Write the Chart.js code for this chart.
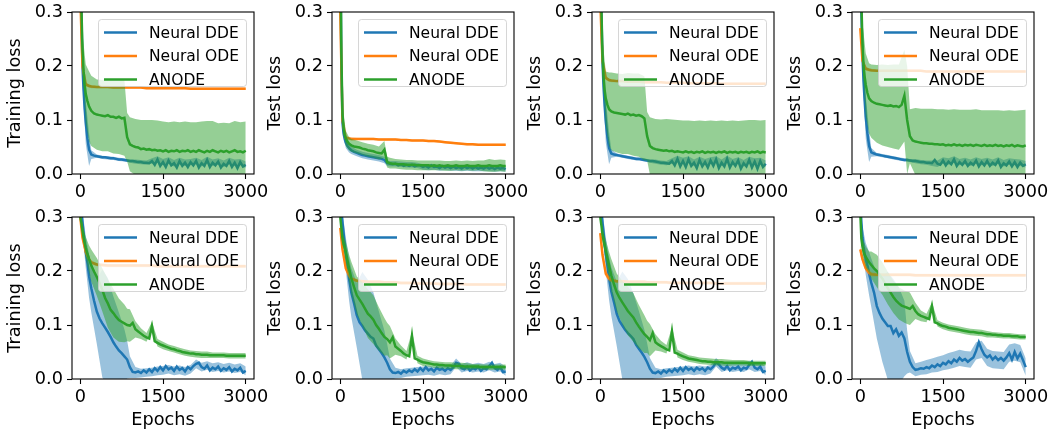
<!DOCTYPE html>
<html>
<head>
<meta charset="utf-8">
<script src="https://cdn.jsdelivr.net/npm/chart.js@4.4.1/dist/chart.umd.min.js"></script>
<style>
  body { margin: 0; background: #fff; width: 1053px; height: 435px; overflow: hidden; position: relative; }
  canvas { position: absolute; }
</style>
</head>
<body>
<script>
// epochs for the mean curves
const epochs = [0, 20, 40, 60, 80, 100, 130, 160, 200,
  250, 300, 350, 400, 450, 500, 550, 600, 650, 700, 750, 800,
  850, 900, 950, 1000, 1050, 1100, 1150, 1200, 1250, 1300, 1350, 1400,
  1450, 1500, 1550, 1600, 1650, 1700, 1750, 1800, 1850, 1900, 1950, 2000,
  2050, 2100, 2150, 2200, 2250, 2300, 2350, 2400, 2450, 2500, 2550, 2600,
  2650, 2700, 2750, 2800, 2850, 2900, 2950, 3000];

// coarser epochs for the shaded bands and the Neural ODE curves
const bandEpochs = [0, 40, 100, 160, 200,
  300, 400, 500, 600, 700, 800, 850, 900,
  1000, 1100, 1200, 1300, 1400, 1500, 1600, 1700, 1800, 1900, 2000,
  2100, 2200, 2300, 2400, 2500, 2600, 2700, 2800, 2900, 3000];

const seriesNames = ['Neural DDE', 'Neural ODE', 'ANODE'];
const xTicks = [0, 1500, 3000];
const yTicks = [0, 0.1, 0.2, 0.3];
const yLabels = ['Training loss', 'Test loss', 'Test loss', 'Test loss',
                 'Training loss', 'Test loss', 'Test loss', 'Test loss'];

// ---- panel 1 (top, training) ----
const dde1 = [0.42, 0.30, 0.20, 0.155, 0.12, 0.095, 0.065, 0.045, 0.036,
  0.034, 0.033, 0.032, 0.031, 0.031, 0.030, 0.029, 0.029, 0.028, 0.027, 0.027, 0.026,
  0.025, 0.024, 0.024, 0.023, 0.022, 0.022, 0.021, 0.021, 0.020, 0.024, 0.017, 0.027,
  0.015, 0.022, 0.013, 0.025, 0.016, 0.020, 0.012, 0.024, 0.015, 0.021, 0.013, 0.022,
  0.016, 0.024, 0.012, 0.020, 0.015, 0.026, 0.013, 0.021, 0.016, 0.023, 0.012, 0.019,
  0.015, 0.024, 0.013, 0.021, 0.011, 0.022, 0.014, 0.017];
const ode1 = [0.33, 0.20, 0.166, 0.163, 0.162,
  0.161, 0.161, 0.161, 0.160, 0.160, 0.160, 0.160, 0.160,
  0.160, 0.160, 0.159, 0.159, 0.159, 0.159, 0.159, 0.159, 0.159, 0.159, 0.158,
  0.158, 0.158, 0.158, 0.158, 0.158, 0.158, 0.158, 0.158, 0.158, 0.158];
const anode1 = [0.45, 0.31, 0.23, 0.19, 0.165, 0.148, 0.135, 0.125, 0.117,
  0.112, 0.110, 0.109, 0.108, 0.107, 0.109, 0.106, 0.106, 0.104, 0.106, 0.103, 0.104,
  0.068, 0.055, 0.052, 0.050, 0.049, 0.046, 0.047, 0.045, 0.046, 0.044, 0.045, 0.043,
  0.044, 0.042, 0.044, 0.041, 0.043, 0.042, 0.044, 0.041, 0.043, 0.042, 0.044, 0.041,
  0.043, 0.041, 0.044, 0.042, 0.040, 0.043, 0.041, 0.044, 0.042, 0.040, 0.043, 0.041,
  0.043, 0.040, 0.042, 0.044, 0.041, 0.042, 0.040, 0.043];
const anodeStd1 = [0.02, 0.03, 0.055, 0.065, 0.065,
  0.065, 0.066, 0.067, 0.068, 0.069, 0.070, 0.045, 0.050,
  0.052, 0.054, 0.055, 0.056, 0.056, 0.055, 0.055, 0.055, 0.055, 0.055, 0.055,
  0.055, 0.055, 0.055, 0.054, 0.054, 0.054, 0.054, 0.054, 0.054, 0.054];

// ---- panel 2 (top, test) ----
const dde2 = [0.45, 0.20, 0.095, 0.075, 0.065, 0.058, 0.052, 0.048, 0.044,
  0.041, 0.039, 0.037, 0.035, 0.034, 0.033, 0.032, 0.031, 0.030, 0.029, 0.028, 0.026,
  0.020, 0.019, 0.018, 0.019, 0.016, 0.018, 0.015, 0.017, 0.015, 0.017, 0.014, 0.016,
  0.016, 0.013, 0.015, 0.012, 0.016, 0.013, 0.014, 0.011, 0.015, 0.012, 0.014, 0.011,
  0.014, 0.011, 0.013, 0.010, 0.014, 0.011, 0.013, 0.010, 0.013, 0.010, 0.012, 0.010,
  0.013, 0.010, 0.012, 0.009, 0.012, 0.010, 0.011, 0.009];
const ode2 = [0.30, 0.10, 0.067, 0.066, 0.065,
  0.065, 0.065, 0.065, 0.065, 0.064, 0.064, 0.064, 0.064,
  0.064, 0.063, 0.063, 0.062, 0.062, 0.062, 0.061, 0.061, 0.060, 0.059, 0.058,
  0.057, 0.056, 0.055, 0.055, 0.054, 0.054, 0.054, 0.054, 0.054, 0.054];
const anode2 = [0.45, 0.22, 0.11, 0.085, 0.072, 0.066, 0.060, 0.056, 0.053,
  0.051, 0.050, 0.049, 0.047, 0.046, 0.044, 0.043, 0.042, 0.040, 0.039, 0.038, 0.045,
  0.022, 0.020, 0.019, 0.019, 0.018, 0.018, 0.018, 0.017, 0.017, 0.017, 0.017, 0.016,
  0.016, 0.016, 0.016, 0.016, 0.015, 0.016, 0.015, 0.016, 0.015, 0.015, 0.016, 0.015,
  0.015, 0.016, 0.015, 0.015, 0.015, 0.016, 0.015, 0.015, 0.015, 0.016, 0.015, 0.015,
  0.015, 0.016, 0.015, 0.015, 0.015, 0.016, 0.015, 0.015];
const ddeStd2 = [0.02, 0.015, 0.01, 0.008, 0.007,
  0.006, 0.006, 0.006, 0.006, 0.006, 0.006, 0.005, 0.005,
  0.005, 0.005, 0.005, 0.005, 0.005, 0.005, 0.005, 0.005, 0.005, 0.005, 0.005,
  0.005, 0.005, 0.005, 0.005, 0.005, 0.005, 0.005, 0.005, 0.005, 0.005];
const anodeStd2 = [0.02, 0.02, 0.014, 0.012, 0.012,
  0.012, 0.012, 0.012, 0.012, 0.012, 0.016, 0.010, 0.010,
  0.009, 0.009, 0.009, 0.009, 0.009, 0.009, 0.009, 0.009, 0.009, 0.009, 0.009,
  0.009, 0.009, 0.009, 0.009, 0.009, 0.010, 0.012, 0.011, 0.011, 0.011];

// ---- panel 3 (top, test) ----
const dde3 = [0.42, 0.30, 0.21, 0.16, 0.125, 0.098, 0.068, 0.048, 0.038,
  0.036, 0.035, 0.034, 0.033, 0.032, 0.031, 0.030, 0.029, 0.028, 0.028, 0.027, 0.026,
  0.025, 0.024, 0.024, 0.023, 0.022, 0.021, 0.021, 0.020, 0.019, 0.024, 0.016, 0.028,
  0.014, 0.024, 0.013, 0.027, 0.015, 0.021, 0.011, 0.026, 0.014, 0.022, 0.012, 0.025,
  0.015, 0.027, 0.011, 0.021, 0.014, 0.028, 0.012, 0.022, 0.015, 0.025, 0.010, 0.020,
  0.014, 0.026, 0.012, 0.023, 0.010, 0.024, 0.013, 0.019];
const ode3 = [0.32, 0.21, 0.178, 0.174, 0.173,
  0.172, 0.172, 0.171, 0.171, 0.171, 0.170, 0.170, 0.170,
  0.170, 0.170, 0.169, 0.169, 0.169, 0.169, 0.168, 0.168, 0.168, 0.168, 0.168,
  0.168, 0.167, 0.167, 0.167, 0.167, 0.167, 0.167, 0.167, 0.167, 0.167];
const anode3 = [0.45, 0.31, 0.22, 0.18, 0.155, 0.14, 0.128, 0.12, 0.116,
  0.114, 0.113, 0.112, 0.111, 0.110, 0.112, 0.109, 0.110, 0.108, 0.109, 0.107, 0.103,
  0.070, 0.052, 0.048, 0.046, 0.045, 0.044, 0.043, 0.044, 0.042, 0.043, 0.041, 0.042,
  0.041, 0.040, 0.042, 0.040, 0.041, 0.039, 0.041, 0.040, 0.042, 0.039, 0.041, 0.040,
  0.041, 0.039, 0.041, 0.040, 0.042, 0.039, 0.041, 0.040, 0.041, 0.039, 0.041, 0.040,
  0.041, 0.039, 0.041, 0.040, 0.042, 0.039, 0.041, 0.040];
const anodeStd3 = [0.02, 0.03, 0.05, 0.068, 0.072,
  0.073, 0.074, 0.075, 0.076, 0.077, 0.078, 0.045, 0.053,
  0.056, 0.057, 0.058, 0.058, 0.058, 0.059, 0.059, 0.059, 0.059, 0.059, 0.059,
  0.059, 0.059, 0.059, 0.059, 0.059, 0.059, 0.061, 0.060, 0.060, 0.060];

// ---- panel 4 (top, test) ----
const dde4 = [0.42, 0.30, 0.22, 0.17, 0.135, 0.105, 0.075, 0.052, 0.040,
  0.038, 0.036, 0.035, 0.034, 0.033, 0.032, 0.031, 0.030, 0.029, 0.028, 0.027, 0.026,
  0.026, 0.025, 0.024, 0.024, 0.023, 0.022, 0.022, 0.021, 0.021, 0.020, 0.026, 0.019,
  0.017, 0.025, 0.016, 0.023, 0.018, 0.027, 0.015, 0.022, 0.017, 0.024, 0.015, 0.021,
  0.017, 0.025, 0.014, 0.022, 0.016, 0.024, 0.015, 0.021, 0.017, 0.025, 0.013, 0.020,
  0.016, 0.023, 0.014, 0.022, 0.013, 0.021, 0.015, 0.018];
const ode4 = [0.27, 0.21, 0.195, 0.193, 0.192,
  0.191, 0.191, 0.191, 0.191, 0.191, 0.191, 0.191, 0.191,
  0.191, 0.191, 0.190, 0.190, 0.190, 0.190, 0.190, 0.190, 0.190, 0.190, 0.190,
  0.190, 0.190, 0.190, 0.190, 0.190, 0.190, 0.190, 0.190, 0.190, 0.190];
const anode4 = [0.45, 0.32, 0.24, 0.20, 0.18, 0.165, 0.15, 0.14, 0.135,
  0.132, 0.130, 0.129, 0.128, 0.127, 0.126, 0.127, 0.125, 0.126, 0.124, 0.128, 0.145,
  0.100, 0.070, 0.062, 0.060, 0.059, 0.058, 0.057, 0.057, 0.056, 0.056, 0.055, 0.055,
  0.054, 0.055, 0.053, 0.054, 0.053, 0.055, 0.053, 0.054, 0.052, 0.054, 0.053, 0.054,
  0.052, 0.054, 0.053, 0.052, 0.054, 0.052, 0.053, 0.052, 0.054, 0.052, 0.053, 0.051,
  0.053, 0.052, 0.054, 0.051, 0.053, 0.052, 0.051, 0.053];
const anodeStd4 = [0.02, 0.04, 0.058, 0.065, 0.068,
  0.072, 0.075, 0.076, 0.078, 0.079, 0.085, 0.100, 0.050,
  0.062, 0.063, 0.064, 0.065, 0.065, 0.065, 0.065, 0.065, 0.065, 0.065, 0.065,
  0.066, 0.066, 0.066, 0.066, 0.066, 0.066, 0.066, 0.066, 0.066, 0.066];

// shared band widths for the top row
const ddeStdA = [0.02, 0.03, 0.04, 0.03, 0.008,
  0.003, 0.003, 0.003, 0.003, 0.003, 0.003, 0.003, 0.003,
  0.004, 0.004, 0.004, 0.005, 0.006, 0.006, 0.006, 0.006, 0.006, 0.006, 0.006,
  0.006, 0.006, 0.006, 0.006, 0.006, 0.006, 0.006, 0.006, 0.006, 0.006];
const odeStdTop = [0.01, 0.008, 0.004, 0.003, 0.003,
  0.002, 0.002, 0.002, 0.002, 0.002, 0.002, 0.002, 0.002,
  0.002, 0.002, 0.002, 0.002, 0.002, 0.002, 0.002, 0.002, 0.002, 0.002, 0.002,
  0.002, 0.002, 0.002, 0.002, 0.002, 0.002, 0.002, 0.002, 0.002, 0.002];

// ---- panel 5 (bottom, training) ----
const dde5 = [0.34, 0.31, 0.29, 0.27, 0.25, 0.235, 0.215, 0.19, 0.168,
  0.145, 0.125, 0.112, 0.103, 0.095, 0.087, 0.078, 0.068, 0.060, 0.053, 0.048, 0.042,
  0.036, 0.022, 0.013, 0.012, 0.014, 0.011, 0.016, 0.012, 0.018, 0.013, 0.020, 0.015,
  0.022, 0.016, 0.024, 0.018, 0.021, 0.015, 0.023, 0.017, 0.020, 0.014, 0.022, 0.018,
  0.024, 0.028, 0.030, 0.022, 0.019, 0.025, 0.016, 0.021, 0.018, 0.023, 0.015, 0.020,
  0.017, 0.022, 0.014, 0.019, 0.016, 0.021, 0.012, 0.015];
const ode5 = [0.30, 0.262, 0.235, 0.222, 0.216,
  0.212, 0.211, 0.210, 0.210, 0.210, 0.210, 0.210, 0.210,
  0.210, 0.210, 0.210, 0.210, 0.209, 0.209, 0.209, 0.209, 0.209, 0.209, 0.209,
  0.209, 0.209, 0.209, 0.209, 0.209, 0.209, 0.209, 0.209, 0.209, 0.209];
const anode5 = [0.30, 0.29, 0.275, 0.262, 0.252, 0.243, 0.232, 0.222, 0.21,
  0.199, 0.189, 0.178, 0.165, 0.150, 0.140, 0.128, 0.122, 0.115, 0.109, 0.106, 0.103,
  0.100, 0.099, 0.104, 0.092, 0.088, 0.084, 0.080, 0.077, 0.075, 0.098, 0.070, 0.067,
  0.064, 0.062, 0.060, 0.058, 0.056, 0.055, 0.053, 0.052, 0.050, 0.049, 0.048, 0.047,
  0.047, 0.046, 0.046, 0.045, 0.045, 0.045, 0.044, 0.044, 0.044, 0.044, 0.044, 0.044,
  0.043, 0.043, 0.043, 0.043, 0.043, 0.043, 0.043, 0.043];

// ---- panel 6 (bottom, test) ----
const dde6 = [0.34, 0.31, 0.29, 0.27, 0.25, 0.232, 0.21, 0.185, 0.16,
  0.14, 0.118, 0.105, 0.098, 0.090, 0.084, 0.078, 0.075, 0.062, 0.055, 0.048, 0.040,
  0.030, 0.018, 0.012, 0.011, 0.013, 0.010, 0.015, 0.012, 0.016, 0.013, 0.018, 0.014,
  0.020, 0.015, 0.022, 0.016, 0.019, 0.014, 0.021, 0.017, 0.019, 0.015, 0.020, 0.017,
  0.022, 0.030, 0.028, 0.020, 0.018, 0.023, 0.016, 0.020, 0.018, 0.022, 0.015, 0.020,
  0.018, 0.024, 0.030, 0.020, 0.017, 0.022, 0.013, 0.014];
const ode6 = [0.28, 0.24, 0.205, 0.192, 0.186,
  0.182, 0.181, 0.180, 0.180, 0.180, 0.179, 0.179, 0.179,
  0.179, 0.178, 0.178, 0.178, 0.177, 0.177, 0.177, 0.177, 0.176, 0.176, 0.176,
  0.176, 0.176, 0.175, 0.175, 0.175, 0.175, 0.175, 0.175, 0.175, 0.175];
const anode6 = [0.30, 0.28, 0.26, 0.25, 0.243, 0.235, 0.22, 0.205, 0.187,
  0.170, 0.155, 0.147, 0.139, 0.130, 0.121, 0.116, 0.110, 0.100, 0.093, 0.085, 0.078,
  0.074, 0.068, 0.077, 0.060, 0.056, 0.052, 0.047, 0.044, 0.042, 0.080, 0.038, 0.036,
  0.033, 0.031, 0.030, 0.029, 0.028, 0.027, 0.027, 0.026, 0.026, 0.025, 0.025, 0.025,
  0.024, 0.024, 0.024, 0.024, 0.023, 0.023, 0.023, 0.023, 0.023, 0.023, 0.022, 0.022,
  0.022, 0.022, 0.022, 0.022, 0.022, 0.022, 0.022, 0.022];

// ---- panel 7 (bottom, test) ----
const dde7 = [0.34, 0.31, 0.29, 0.27, 0.25, 0.232, 0.21, 0.186, 0.162,
  0.142, 0.12, 0.107, 0.099, 0.091, 0.085, 0.08, 0.074, 0.063, 0.056, 0.049, 0.041,
  0.031, 0.019, 0.012, 0.011, 0.014, 0.010, 0.016, 0.012, 0.017, 0.013, 0.019, 0.014,
  0.021, 0.015, 0.022, 0.017, 0.020, 0.015, 0.021, 0.017, 0.020, 0.015, 0.021, 0.018,
  0.023, 0.031, 0.027, 0.021, 0.018, 0.024, 0.016, 0.021, 0.019, 0.023, 0.016, 0.021,
  0.019, 0.026, 0.032, 0.021, 0.018, 0.023, 0.013, 0.015];
const ode7 = [0.27, 0.23, 0.195, 0.186, 0.183,
  0.181, 0.181, 0.180, 0.180, 0.180, 0.180, 0.179, 0.179,
  0.179, 0.179, 0.179, 0.178, 0.178, 0.178, 0.178, 0.178, 0.178, 0.178, 0.178,
  0.177, 0.177, 0.177, 0.177, 0.177, 0.177, 0.177, 0.177, 0.177, 0.177];
const anode7 = [0.30, 0.285, 0.268, 0.256, 0.247, 0.238, 0.224, 0.21, 0.192,
  0.175, 0.160, 0.150, 0.142, 0.134, 0.126, 0.120, 0.114, 0.105, 0.097, 0.090, 0.083,
  0.078, 0.072, 0.085, 0.068, 0.064, 0.061, 0.058, 0.055, 0.053, 0.088, 0.049, 0.047,
  0.044, 0.042, 0.040, 0.038, 0.037, 0.036, 0.035, 0.034, 0.033, 0.033, 0.032, 0.032,
  0.031, 0.031, 0.031, 0.031, 0.030, 0.030, 0.030, 0.030, 0.030, 0.030, 0.030, 0.030,
  0.030, 0.029, 0.029, 0.029, 0.029, 0.029, 0.029, 0.029];

// shared band widths for panels 5-7
const ddeStdB = [0.01, 0.02, 0.03, 0.04, 0.045,
  0.06, 0.10, 0.10, 0.085, 0.07, 0.05, 0.035, 0.02,
  0.01, 0.008, 0.008, 0.008, 0.008, 0.008, 0.008, 0.008, 0.008, 0.008, 0.008,
  0.008, 0.008, 0.008, 0.008, 0.008, 0.008, 0.008, 0.008, 0.008, 0.008];
const anodeStdB = [0.005, 0.01, 0.02, 0.025, 0.03,
  0.035, 0.04, 0.045, 0.045, 0.04, 0.035, 0.03, 0.03,
  0.015, 0.01, 0.008, 0.008, 0.007, 0.007, 0.006, 0.006, 0.006, 0.006, 0.006,
  0.006, 0.006, 0.006, 0.005, 0.005, 0.005, 0.005, 0.005, 0.005, 0.005];
const odeStdBottom = [0.01, 0.008, 0.006, 0.005, 0.004,
  0.003, 0.003, 0.003, 0.003, 0.003, 0.003, 0.003, 0.003,
  0.003, 0.003, 0.003, 0.003, 0.003, 0.003, 0.003, 0.003, 0.003, 0.003, 0.003,
  0.003, 0.003, 0.003, 0.003, 0.003, 0.003, 0.003, 0.003, 0.003, 0.003];

// ---- panel 8 (bottom, test) ----
const dde8 = [0.33, 0.29, 0.262, 0.245, 0.232, 0.222, 0.21, 0.195, 0.178,
  0.160, 0.135, 0.122, 0.112, 0.105, 0.098, 0.098, 0.085, 0.092, 0.080, 0.086, 0.075,
  0.050, 0.032, 0.022, 0.017, 0.018, 0.020, 0.019, 0.022, 0.020, 0.025, 0.022, 0.027,
  0.024, 0.030, 0.027, 0.033, 0.029, 0.036, 0.032, 0.039, 0.034, 0.037, 0.032, 0.036,
  0.040, 0.052, 0.068, 0.055, 0.045, 0.040, 0.044, 0.036, 0.041, 0.035, 0.039, 0.034,
  0.040, 0.048, 0.036, 0.050, 0.038, 0.047, 0.035, 0.022];
const ode8 = [0.24, 0.222, 0.205, 0.197, 0.194,
  0.193, 0.193, 0.193, 0.193, 0.193, 0.193, 0.193, 0.193,
  0.192, 0.192, 0.192, 0.192, 0.192, 0.192, 0.192, 0.192, 0.192, 0.192, 0.192,
  0.192, 0.192, 0.192, 0.192, 0.192, 0.192, 0.192, 0.192, 0.192, 0.192];
const anode8 = [0.31, 0.26, 0.245, 0.236, 0.23, 0.226, 0.221, 0.216, 0.211,
  0.205, 0.200, 0.193, 0.186, 0.177, 0.168, 0.160, 0.152, 0.145, 0.140, 0.136, 0.134,
  0.132, 0.130, 0.135, 0.126, 0.120, 0.117, 0.115, 0.113, 0.111, 0.135, 0.105, 0.103,
  0.100, 0.098, 0.097, 0.095, 0.094, 0.093, 0.092, 0.091, 0.090, 0.089, 0.088, 0.087,
  0.087, 0.086, 0.085, 0.085, 0.084, 0.083, 0.083, 0.082, 0.082, 0.081, 0.081, 0.080,
  0.080, 0.080, 0.079, 0.079, 0.079, 0.078, 0.078, 0.078];
const ddeStd8 = [0.01, 0.02, 0.03, 0.04, 0.045,
  0.06, 0.08, 0.10, 0.10, 0.09, 0.07, 0.04, 0.02,
  0.012, 0.012, 0.013, 0.013, 0.014, 0.014, 0.015, 0.015, 0.015, 0.015, 0.015,
  0.016, 0.016, 0.016, 0.016, 0.016, 0.016, 0.016, 0.016, 0.016, 0.016];
const anodeStd8 = [0.01, 0.015, 0.02, 0.02, 0.025,
  0.03, 0.03, 0.03, 0.03, 0.03, 0.03, 0.03, 0.03,
  0.015, 0.01, 0.008, 0.007, 0.006, 0.006, 0.006, 0.006, 0.006, 0.006, 0.006,
  0.006, 0.006, 0.006, 0.005, 0.005, 0.005, 0.005, 0.005, 0.005, 0.005];

const lineColors = ['#1f77b4', '#ff7f0e', '#2ca02c'];
const bandColors = ['rgba(31,119,180,0.45)', 'rgba(255,127,14,0.35)', 'rgba(44,160,44,0.5)'];
const FONT = "'DejaVu Sans', sans-serif";

const panels = [
  [dde1, ddeStdA, ode1, odeStdTop, anode1, anodeStd1],
  [dde2, ddeStd2, ode2, odeStdTop, anode2, anodeStd2],
  [dde3, ddeStdA, ode3, odeStdTop, anode3, anodeStd3],
  [dde4, ddeStdA, ode4, odeStdTop, anode4, anodeStd4],
  [dde5, ddeStdB, ode5, odeStdBottom, anode5, anodeStdB],
  [dde6, ddeStdB, ode6, odeStdBottom, anode6, anodeStdB],
  [dde7, ddeStdB, ode7, odeStdBottom, anode7, anodeStdB],
  [dde8, ddeStd8, ode8, odeStdBottom, anode8, anodeStd8]
];

function pts(xs, ys) {
  return xs.map((x, i) => ({x: x, y: ys[i]}));
}

function bandPts(xs, mean, std, sign) {
  return bandEpochs.map((e, i) => ({x: e, y: mean[xs.indexOf(e)] + sign * std[i]}));
}

// upper edge, lower edge (filled to upper), mean line
function seriesSets(xs, mean, std, k) {
  return [
    {data: bandPts(xs, mean, std, 1), borderColor: 'transparent', borderWidth: 0, pointRadius: 0, fill: false},
    {data: bandPts(xs, mean, std, -1), borderColor: 'transparent', borderWidth: 0, pointRadius: 0,
     fill: '-1', backgroundColor: bandColors[k]},
    {data: pts(xs, mean), borderColor: lineColors[k], borderWidth: 2.5, pointRadius: 0, fill: false}
  ];
}

// box around the axes + matplotlib style legend in the upper right
const frameLegend = {
  id: 'frameLegend',
  afterDatasetsDraw(chart) {
    const ctx = chart.ctx, a = chart.chartArea;
    ctx.save();
    ctx.strokeStyle = '#000';
    ctx.lineWidth = 1.1;
    ctx.strokeRect(a.left, a.top, a.right - a.left, a.bottom - a.top);

    const w = 148, h = 67;
    const x0 = a.right - 8 - w, y0 = a.top + 7;
    ctx.beginPath();
    ctx.roundRect(x0 + 0.5, y0 + 0.5, w, h, 3);
    ctx.fillStyle = 'rgba(255,255,255,0.8)';
    ctx.fill();
    ctx.strokeStyle = 'rgba(204,204,204,0.8)';
    ctx.lineWidth = 1;
    ctx.stroke();

    ctx.font = '15.5px ' + FONT;
    ctx.textBaseline = 'middle';
    seriesNames.forEach((name, i) => {
      const y = y0 + 13.5 + i * 23.5;
      ctx.strokeStyle = lineColors[i];
      ctx.lineWidth = 2.5;
      ctx.beginPath();
      ctx.moveTo(x0 + 6, y);
      ctx.lineTo(x0 + 39, y);
      ctx.stroke();
      ctx.fillStyle = '#000';
      ctx.fillText(name, x0 + 51, y + 1);
    });
    ctx.restore();
  }
};

panels.forEach((p, n) => {
  const row = Math.floor(n / 4), col = n % 4;
  const cv = document.createElement('canvas');
  cv.width = 290;
  cv.height = row ? 230 : 205;
  cv.style.left = (col * 260) + 'px';
  cv.style.top = (row * 205) + 'px';
  document.body.appendChild(cv);

  const datasets = [].concat(
    seriesSets(epochs, p[0], p[1], 0),
    seriesSets(bandEpochs, p[2], p[3], 1),
    seriesSets(epochs, p[4], p[5], 2)
  );
  // draw in the same sequence as matplotlib: first dataset at the bottom
  datasets.forEach((d, i) => { d.order = datasets.length - i; d.clip = 0; d.tension = 0; });

  const tickGrid = {display: true, drawOnChartArea: false, drawTicks: true, tickLength: 5,
                    tickColor: '#000', tickWidth: 1.1};
  const tickFont = {family: FONT, size: 17.7};

  new Chart(cv, {
    type: 'line',
    data: {datasets: datasets},
    options: {
      responsive: false,
      animation: false,
      devicePixelRatio: 1,
      layout: {padding: {left: 0, top: 12, right: 36, bottom: 0}},
      plugins: {legend: {display: false}, tooltip: {enabled: false}},
      scales: {
        x: {
          type: 'linear', min: -150, max: 3150,
          afterBuildTicks: s => { s.ticks = xTicks.map(v => ({value: v})); },
          afterFit: s => { s.height = row ? 56 : 31; s.paddingLeft = 0; s.paddingRight = 0; },
          grid: tickGrid,
          border: {display: false},
          ticks: {color: '#000', font: tickFont, padding: 3, maxRotation: 0, autoSkip: false,
                  callback: v => String(v)},
          title: {display: row === 1, text: 'Epochs', color: '#000', font: tickFont,
                  padding: {top: 0, bottom: 4}}
        },
        y: {
          type: 'linear', min: 0, max: 0.3,
          afterBuildTicks: s => { s.ticks = yTicks.map(v => ({value: v})); },
          afterFit: s => { s.width = 72; s.paddingTop = 0; s.paddingBottom = 0; },
          grid: tickGrid,
          border: {display: false},
          ticks: {color: '#000', font: tickFont, padding: 4, callback: v => v.toFixed(1)},
          title: {display: true, text: yLabels[n], color: '#000', font: tickFont,
                  padding: {top: 5, bottom: 0}}
        }
      }
    },
    plugins: [frameLegend]
  });
});
</script>
</body>
</html>
